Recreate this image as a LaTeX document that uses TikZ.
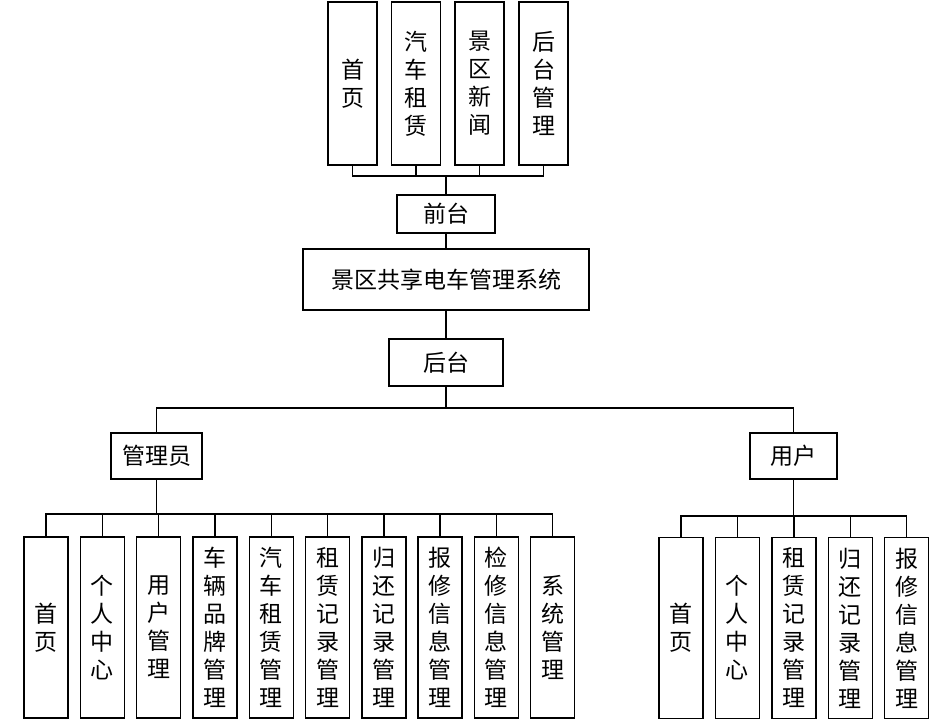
\documentclass[tikz,border=0pt]{standalone}
\usepackage{fontspec}
\newfontfamily\cjk{Noto Sans CJK SC}
\tikzset{
  kuang/.style={draw, line width=1.4pt, inner sep=0pt, align=center,
    font=\cjk\fontsize{23}{28}\selectfont},
  gao/.style={kuang, minimum width=49pt, minimum height=163pt},
  ye/.style={kuang, minimum width=44pt, minimum height=181pt},
  xian/.style={line width=1.4pt}
}
\begin{document}
\begin{tikzpicture}[x=1pt,y=-1pt]
\useasboundingbox (0,0) rectangle (940,726);
% qiantai
\node[gao] (t1) at (352.5,83.5) {首\\页};
\node[gao] (t2) at (416,83.5) {汽\\车\\租\\赁};
\node[gao] (t3) at (479.5,83.5) {景\\区\\新\\闻};
\node[gao] (t4) at (543.5,83.5) {后\\台\\管\\理};
\node[kuang, minimum width=98pt, minimum height=38pt] (qiantai) at (446,214) {前台};
\node[kuang, minimum width=286pt, minimum height=61pt] (xitong) at (446,279.5) {景区共享电车管理系统};
\node[kuang, minimum width=114pt, minimum height=47pt] (houtai) at (446,362.5) {后台};
\node[kuang, minimum width=91pt, minimum height=46pt] (guanliyuan) at (156.5,456) {管理员};
\node[kuang, minimum width=87pt, minimum height=46pt] (yonghu) at (793.5,456) {用户};
% guanliyuan
\node[ye] (a1) at (46,627.5) {首\\页};
\node[ye] (a2) at (102.3,627.5) {个\\人\\中\\心};
\node[ye] (a3) at (158.6,627.5) {用\\户\\管\\理};
\node[ye] (a4) at (214.9,627.5) {车\\辆\\品\\牌\\管\\理};
\node[ye] (a5) at (271.2,627.5) {汽\\车\\租\\赁\\管\\理};
\node[ye] (a6) at (327.5,627.5) {租\\赁\\记\\录\\管\\理};
\node[ye] (a7) at (383.8,627.5) {归\\还\\记\\录\\管\\理};
\node[ye] (a8) at (440.1,627.5) {报\\修\\信\\息\\管\\理};
\node[ye] (a9) at (496.4,627.5) {检\\修\\信\\息\\管\\理};
\node[ye] (a10) at (552.7,627.5) {系\\统\\管\\理};
% yonghu
\node[ye] (u1) at (681,628) {首\\页};
\node[ye] (u2) at (737.4,628) {个\\人\\中\\心};
\node[ye] (u3) at (793.8,628) {租\\赁\\记\\录\\管\\理};
\node[ye] (u4) at (850.2,628) {归\\还\\记\\录\\管\\理};
\node[ye] (u5) at (906.6,628) {报\\修\\信\\息\\管\\理};
% lines
\coordinate (qbus) at (446,176);
\coordinate (hbus) at (446,408);
\coordinate (gbus) at (156.5,514);
\coordinate (ubus) at (793.5,516);
\draw[xian] (qiantai.north) -- (qbus);
\draw[xian] (t1.south) |- (qbus);
\draw[xian] (t2.south) |- (qbus);
\draw[xian] (t3.south) |- (qbus);
\draw[xian] (t4.south) |- (qbus);
\draw[xian] (qiantai.south) -- (xitong.north);
\draw[xian] (xitong.south) -- (houtai.north);
\draw[xian] (houtai.south) -- (hbus);
\draw[xian] (guanliyuan.north) |- (hbus);
\draw[xian] (yonghu.north) |- (hbus);
\draw[xian] (guanliyuan.south) -- (gbus);
\draw[xian] (a1.north) |- (gbus);
\draw[xian] (a2.north) |- (gbus);
\draw[xian] (a3.north) |- (gbus);
\draw[xian] (a4.north) |- (gbus);
\draw[xian] (a5.north) |- (gbus);
\draw[xian] (a6.north) |- (gbus);
\draw[xian] (a7.north) |- (gbus);
\draw[xian] (a8.north) |- (gbus);
\draw[xian] (a9.north) |- (gbus);
\draw[xian] (a10.north) |- (gbus);
\draw[xian] (yonghu.south) -- (ubus);
\draw[xian] (u1.north) |- (ubus);
\draw[xian] (u2.north) |- (ubus);
\draw[xian] (u3.north) |- (ubus);
\draw[xian] (u4.north) |- (ubus);
\draw[xian] (u5.north) |- (ubus);
\end{tikzpicture}
\end{document}
